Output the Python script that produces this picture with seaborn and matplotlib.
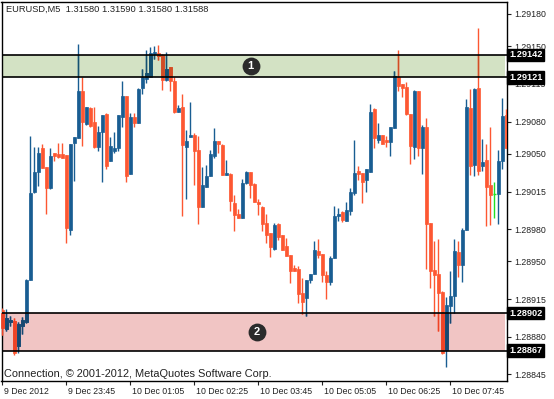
import numpy as np
import pandas as pd
import matplotlib
matplotlib.use('Agg')
import matplotlib.pyplot as plt
import matplotlib.patches as mpatches
import matplotlib.transforms as mtransforms
import seaborn as sns

# EURUSD M5 candles
opens = [1.28905, 1.28887, 1.28894, 1.28895, 1.28871, 1.28890, 1.28894, 1.28933, 1.29015, 1.29033,
         1.29055, 1.29038, 1.29018, 1.29051, 1.29050, 1.29050, 1.29049, 1.28979, 1.29060, 1.29065,
         1.29108, 1.29078, 1.29093, 1.29080, 1.29056, 1.29070, 1.29087, 1.29043, 1.29053, 1.29055,
         1.29084, 1.29104, 1.29031, 1.29084, 1.29079, 1.29111, 1.29120, 1.29121, 1.29143, 1.29144,
         1.29142, 1.29119, 1.29131, 1.29118, 1.29089, 1.29094, 1.29056, 1.29066, 1.29068, 1.29054,
         1.29001, 1.29019, 1.29029, 1.29048, 1.29062, 1.29058, 1.29030, 1.29031, 1.29004, 1.28994,
         1.28990, 1.29023, 1.29033, 1.29022, 1.29005, 1.29001, 1.28986, 1.28976, 1.28962, 1.28985,
         1.28975, 1.28964, 1.28956, 1.28944, 1.28943, 1.28921, 1.28916, 1.28933, 1.28938, 1.28960,
         1.28957, 1.28937, 1.28931, 1.28953, 1.28992, 1.28996, 1.28988, 1.28997, 1.29014, 1.29034,
         1.29032, 1.29026, 1.29033, 1.29092, 1.29063, 1.29068, 1.29063, 1.29061, 1.29074, 1.29121,
         1.29115, 1.29112, 1.29087, 1.29056, 1.29108, 1.29055, 1.29075, 1.28986, 1.28942, 1.28938,
         1.28922, 1.28868, 1.28909, 1.28918, 1.28959, 1.28947, 1.28979, 1.29093, 1.29040, 1.29111,
         1.29039, 1.29044, 1.29021, 1.29013, 1.29013, 1.29043, 1.29086]
highs = [1.28907, 1.28906, 1.28899, 1.28897, 1.28894, 1.28898, 1.28934, 1.29067, 1.29056, 1.29056,
         1.29059, 1.29038, 1.29055, 1.29051, 1.29060, 1.29060, 1.29049, 1.29059, 1.29066, 1.29152,
         1.29121, 1.29094, 1.29094, 1.29094, 1.29076, 1.29086, 1.29088, 1.29066, 1.29070, 1.29086,
         1.29118, 1.29104, 1.29088, 1.29088, 1.29111, 1.29129, 1.29147, 1.29149, 1.29150, 1.29151,
         1.29143, 1.29145, 1.29131, 1.29121, 1.29095, 1.29106, 1.29072, 1.29098, 1.29069, 1.29067,
         1.29038, 1.29040, 1.29054, 1.29074, 1.29062, 1.29059, 1.29044, 1.29032, 1.29012, 1.28999,
         1.29027, 1.29034, 1.29033, 1.29023, 1.29008, 1.29002, 1.28994, 1.28976, 1.28986, 1.28986,
         1.28975, 1.28972, 1.28956, 1.28947, 1.28946, 1.28935, 1.28933, 1.28938, 1.28969, 1.28971,
         1.28957, 1.28941, 1.28955, 1.29002, 1.29000, 1.28997, 1.29005, 1.29018, 1.29063, 1.29039,
         1.29032, 1.29036, 1.29096, 1.29093, 1.29079, 1.29068, 1.29067, 1.29075, 1.29127, 1.29147,
         1.29115, 1.29117, 1.29087, 1.29109, 1.29108, 1.29077, 1.29083, 1.28986, 1.28969, 1.28971,
         1.28923, 1.28917, 1.28941, 1.28971, 1.28969, 1.28981, 1.29101, 1.29110, 1.29111, 1.29167,
         1.29064, 1.29059, 1.29075, 1.29024, 1.29054, 1.29102, 1.29092]
lows = [1.28882, 1.28885, 1.28890, 1.28863, 1.28865, 1.28883, 1.28893, 1.28933, 1.29014, 1.29020,
        1.29037, 1.28994, 1.29017, 1.29043, 1.29046, 1.29046, 1.28967, 1.28975, 1.29025, 1.29065,
        1.29057, 1.29077, 1.29075, 1.29055, 1.29053, 1.29024, 1.29036, 1.29043, 1.29051, 1.29053,
        1.29075, 1.29024, 1.29031, 1.29075, 1.29079, 1.29106, 1.29116, 1.29121, 1.29138, 1.29137,
        1.29109, 1.29118, 1.29108, 1.29088, 1.29089, 1.28992, 1.29008, 1.29066, 1.29021, 1.28985,
        1.29001, 1.29019, 1.29029, 1.29046, 1.29051, 1.29030, 1.29030, 1.28997, 1.28978, 1.28990,
        1.28990, 1.29022, 1.29009, 1.29005, 1.28993, 1.28978, 1.28967, 1.28954, 1.28961, 1.28970,
        1.28961, 1.28955, 1.28930, 1.28941, 1.28911, 1.28901, 1.28899, 1.28930, 1.28938, 1.28953,
        1.28931, 1.28915, 1.28928, 1.28953, 1.28988, 1.28987, 1.28988, 1.28993, 1.29012, 1.29026,
        1.29004, 1.29015, 1.29033, 1.29055, 1.29060, 1.29059, 1.29056, 1.29048, 1.29074, 1.29108,
        1.29103, 1.29086, 1.29041, 1.29045, 1.29048, 1.29031, 1.28943, 1.28925, 1.28899, 1.28885,
        1.28864, 1.28852, 1.28893, 1.28902, 1.28936, 1.28931, 1.28979, 1.29030, 1.29029, 1.29030,
        1.29034, 1.28983, 1.28984, 1.28990, 1.28985, 1.29036, 1.29055]
closes = [1.28888, 1.28897, 1.28896, 1.28865, 1.28892, 1.28896, 1.28933, 1.29014, 1.29033, 1.29051,
          1.29037, 1.29018, 1.29048, 1.29048, 1.29047, 1.29046, 1.28981, 1.29059, 1.29066, 1.29108,
          1.29080, 1.29094, 1.29076, 1.29056, 1.29070, 1.29086, 1.29039, 1.29057, 1.29055, 1.29086,
          1.29104, 1.29029, 1.29084, 1.29079, 1.29110, 1.29121, 1.29125, 1.29144, 1.29145, 1.29141,
          1.29119, 1.29129, 1.29118, 1.29089, 1.29093, 1.29058, 1.29062, 1.29068, 1.29053, 1.29001,
          1.29021, 1.29029, 1.29050, 1.29062, 1.29059, 1.29030, 1.29032, 1.29006, 1.28993, 1.28990,
          1.29023, 1.29033, 1.29021, 1.29005, 1.29003, 1.28985, 1.28975, 1.28963, 1.28984, 1.28973,
          1.28961, 1.28955, 1.28941, 1.28941, 1.28920, 1.28912, 1.28933, 1.28938, 1.28961, 1.28956,
          1.28937, 1.28931, 1.28953, 1.28992, 1.28994, 1.28989, 1.28998, 1.29015, 1.29032, 1.29031,
          1.29024, 1.29036, 1.29089, 1.29065, 1.29068, 1.29059, 1.29061, 1.29075, 1.29122, 1.29113,
          1.29111, 1.29087, 1.29057, 1.29108, 1.29055, 1.29075, 1.28985, 1.28941, 1.28937, 1.28921,
          1.28865, 1.28910, 1.28918, 1.28960, 1.28947, 1.28979, 1.29094, 1.29039, 1.29110, 1.29034,
          1.29042, 1.29019, 1.29012, 1.29013, 1.29043, 1.29085, 1.29055]

time_tick_bars = [0, 16, 32, 48, 64, 80, 96, 112]
time_tick_labels = ['9 Dec 2012', '9 Dec 23:45', '10 Dec 01:05', '10 Dec 02:25',
                    '10 Dec 03:45', '10 Dec 05:05', '10 Dec 06:25', '10 Dec 07:45']
price_ticks = [1.29180, 1.29150, 1.29115, 1.29080, 1.29050, 1.29015,
               1.28980, 1.28950, 1.28915, 1.28880, 1.28845]

zone_tops = [1.29142, 1.28902]
zone_bottoms = [1.29121, 1.28867]
zone_names = ['1', '2']
zone_colors = ['#d3e2c4', '#f1c5c4']

header = 'EURUSD,M5  1.31580 1.31590 1.31580 1.31588'
footer = 'Connection, \u00a9 2001-2012, MetaQuotes Software Corp.'

BULL = '#195d92'
BEAR = '#fd5732'
DOJI = '#22e022'

sns.set_theme(style='white')
plt.rcParams['font.family'] = ['Liberation Sans', 'DejaVu Sans']

df = pd.DataFrame({'open': opens, 'high': highs, 'low': lows, 'close': closes})
df['bar'] = np.arange(len(df))

W, H = 554, 399
fig = plt.figure(figsize=(W / 100, H / 100), dpi=100)
ax = fig.add_axes([1.5 / W, 18 / H, 505.5 / W, 379 / H])
ax.set_facecolor('white')
ax.set_xlim(-0.2, 126.175)
ax.set_ylim(1.288389, 1.2919115)


def multiply(c1, c2):
    a = np.array(matplotlib.colors.to_rgb(c1))
    b = np.array(matplotlib.colors.to_rgb(c2))
    return tuple(a * b)


def draw_candles(bull, bear, doji, clip=None, z=3):
    arts = []
    up = df[df.close > df.open]
    dn = df[df.close < df.open]
    fl = df[df.close == df.open]
    for part, col in [(up, bull), (dn, bear)]:
        arts.append(ax.vlines(part.bar, part.low, part.high, color=col, lw=1.0, zorder=z))
        bot = np.minimum(part.open, part.close)
        hgt = np.abs(part.close - part.open)
        arts.extend(ax.bar(part.bar, hgt, bottom=bot, width=0.68, color=col,
                           edgecolor=col, linewidth=0.5, zorder=z))
    arts.append(ax.vlines(fl.bar, fl.low, fl.high, color=doji, lw=1.0, zorder=z))
    arts.append(ax.hlines(fl.open, fl.bar - 0.4, fl.bar + 0.4, color=doji, lw=1.0, zorder=z))
    if clip is not None:
        for a in arts:
            a.set_clip_path(clip)


# zones
for top, bot, col in zip(zone_tops, zone_bottoms, zone_colors):
    ax.axhspan(bot, top, xmin=0, xmax=0.996, color=col, lw=0, zorder=1)

draw_candles(BULL, BEAR, DOJI)

# darker candles where they sit inside a zone
for top, bot, col in zip(zone_tops, zone_bottoms, zone_colors):
    rect = mpatches.Rectangle((-1, bot), 130, top - bot, transform=ax.transData)
    draw_candles(multiply(BULL, col), multiply(BEAR, col), DOJI, clip=rect, z=4)

for top, bot in zip(zone_tops, zone_bottoms):
    ax.axhline(top, color='black', lw=1.2, zorder=5)
    ax.axhline(bot, color='black', lw=1.2, zorder=5)

# zone number badges
badge_x = [62.1, 63.6]
for name, bx, top, bot in zip(zone_names, badge_x, zone_tops, zone_bottoms):
    yc = (top + bot) / 2
    ax.scatter([bx], [yc], s=165, color='#2b2b2b', zorder=6, linewidths=0)
    ax.text(bx, yc, name, color='white', fontsize=8, fontweight='bold',
            ha='center', va='center', zorder=7)

# axes frame and ticks
for sp in ax.spines.values():
    sp.set_color('black')
    sp.set_linewidth(1.0)

ax.yaxis.tick_right()
ax.set_yticks(price_ticks)
ax.set_yticklabels([f'{p:.5f}' for p in price_ticks])
ax.tick_params(axis='y', which='both', right=True, left=False, labelright=True,
               labelleft=False, length=3, width=0.8, pad=2.5, labelsize=6.3,
               colors='#222222', direction='out')
ax.set_xticks(time_tick_bars)
ax.set_xticklabels(time_tick_labels)
ax.tick_params(axis='x', which='both', bottom=True, length=3, width=0.8, pad=1.5,
               labelsize=6.3, colors='#222222', direction='out')
offset = mtransforms.ScaledTranslation(2 / 100, 0, fig.dpi_scale_trans)
for lab in ax.get_xticklabels():
    lab.set_horizontalalignment('left')
    lab.set_transform(lab.get_transform() + offset)
ax.set_xlabel('')
ax.set_ylabel('')

# price labels of the zone edges
blend = mtransforms.blended_transform_factory(ax.transAxes, ax.transData)
for lvl in zone_tops + zone_bottoms:
    ax.text(1.004, lvl, f'{lvl:.5f}', transform=blend, color='white', fontsize=6.6,
            fontweight='bold', ha='left', va='center', clip_on=False, zorder=10,
            bbox=dict(boxstyle='square,pad=0.2', facecolor='black', edgecolor='black'))

fig.text(6.5 / W, 1 - 9 / H, header, fontsize=6.7, color='#222222', ha='left', va='center')
fig.text(4.5 / W, 1 - 374 / H, footer, fontsize=7.9, color='#222222', ha='left', va='center')

fig.savefig('out.png', dpi=100, facecolor='white')
